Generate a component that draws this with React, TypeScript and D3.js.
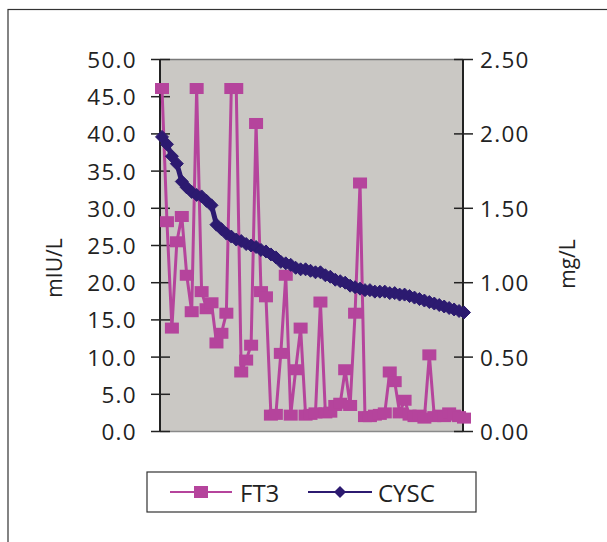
import React from "react";
import * as d3 from "d3";

const ft3: number[] = [
  46.1, 28.2, 13.9, 25.5, 28.9, 21.0, 16.1, 46.1, 18.8, 16.5,
  17.3, 11.9, 13.2, 15.9, 46.1, 46.1, 8.0, 9.6, 11.6, 41.4,
  18.8, 18.1, 2.2, 2.3, 10.5, 21.0, 2.2, 8.3, 13.9, 2.2,
  2.3, 2.5, 17.4, 2.5, 2.6, 3.5, 3.8, 8.3, 3.5, 15.9,
  33.4, 2.0, 2.0, 2.2, 2.3, 2.5, 8.0, 6.7, 2.5, 4.2,
  2.2, 2.0, 2.2, 1.8, 10.3, 2.0, 2.2, 2.0, 2.5, 2.2,
  2.0, 1.8,
];

const cysc: number[] = [
  1.98, 1.93, 1.85, 1.80, 1.68, 1.64, 1.61, 1.59, 1.58, 1.55,
  1.52, 1.39, 1.36, 1.33, 1.31, 1.29, 1.28, 1.26, 1.25, 1.24,
  1.22, 1.21, 1.19, 1.17, 1.14, 1.13, 1.12, 1.10, 1.09, 1.09,
  1.08, 1.07, 1.07, 1.05, 1.04, 1.02, 1.01, 1.00, 0.98, 0.97,
  0.96, 0.95, 0.95, 0.94, 0.94, 0.94, 0.93, 0.93, 0.92, 0.92,
  0.91, 0.90, 0.89, 0.88, 0.87, 0.86, 0.85, 0.84, 0.83, 0.82,
  0.81, 0.80,
];

const leftTicks: number[] = [0, 5, 10, 15, 20, 25, 30, 35, 40, 45, 50];
const rightTicks: number[] = [0, 0.5, 1, 1.5, 2, 2.5];
const seriesNames: string[] = ["FT3", "CYSC"];
const axisTitles: string[] = ["mIU/L", "mg/L"];

const W = 607;
const H = 542;
const PL = 160;
const PR = 463;
const PT = 59.5;
const PB = 431.5;
const FT3_COLOR = "#b5449c";
const CYSC_COLOR = "#2c1a70";
const FONT = "'Open Sans', 'DejaVu Sans', sans-serif";

export default function App() {
  const x = d3.scaleLinear().domain([0, ft3.length - 1]).range([PL + 2, PR + 1]);
  const yL = d3.scaleLinear().domain([0, 50]).range([PB, PT]);
  const yR = d3.scaleLinear().domain([0, 2.5]).range([PB, PT]);

  const ftLine = d3.line<number>().x((_, i) => x(i)).y((d) => yL(d))(ft3) || "";
  const cyLine = d3.line<number>().x((_, i) => x(i)).y((d) => yR(d))(cysc) || "";

  const sqW = 14;
  const sqH = 11;
  const dia = (cx: number, cy: number, r: number) =>
    `M${cx},${cy - r}L${cx + r},${cy}L${cx},${cy + r}L${cx - r},${cy}Z`;

  return (
    <svg width={W} height={H} style={{ position: "absolute", left: 0, top: 0 }}>
      <rect x={0} y={0} width={W} height={H} fill="#ffffff" />
      <rect x={8} y={9.5} width={700} height={700} fill="none" stroke="#333" strokeWidth={1.2} />
      <rect x={PL} y={PT} width={PR - PL} height={PB - PT} fill="#cac8c4" />
      <line x1={PL} x2={PR} y1={PT} y2={PT} stroke="#7a7a7a" strokeWidth={1.5} />
      <line x1={PL} x2={PR} y1={PB} y2={PB} stroke="#8a8a8a" strokeWidth={1.5} />
      <line x1={PL} x2={PL} y1={PT} y2={PB} stroke="#222" strokeWidth={2} />
      <line x1={PR} x2={PR} y1={PT} y2={PB} stroke="#222" strokeWidth={2} />
      {leftTicks.map((t) => (
        <g key={"l" + t}>
          <line x1={PL - 9} x2={PL + 10} y1={yL(t)} y2={yL(t)} stroke="#222" strokeWidth={1.5} />
          <text x={137} y={yL(t)} textAnchor="end" dominantBaseline="central" fontFamily={FONT} fontSize={22.5} fill="#222" letterSpacing={1.3}>
            {t.toFixed(1)}
          </text>
        </g>
      ))}
      {rightTicks.map((t) => (
        <g key={"r" + t}>
          <line x1={PR - 9} x2={PR + 10} y1={yR(t)} y2={yR(t)} stroke="#222" strokeWidth={1.5} />
          <text x={480} y={yR(t)} textAnchor="start" dominantBaseline="central" fontFamily={FONT} fontSize={22.5} fill="#222" letterSpacing={1.3}>
            {t.toFixed(2)}
          </text>
        </g>
      ))}
      <text transform={`translate(62,268) rotate(-90)`} textAnchor="middle" fontFamily={FONT} fontSize={21} fill="#222">
        {axisTitles[0]}
      </text>
      <text transform={`translate(575,264) rotate(-90)`} textAnchor="middle" fontFamily={FONT} fontSize={21} fill="#222">
        {axisTitles[1]}
      </text>

      <path d={ftLine} fill="none" stroke={FT3_COLOR} strokeWidth={3} />
      {ft3.map((v, i) => (
        <rect key={"f" + i} x={x(i) - sqW / 2} y={yL(v) - sqH / 2} width={sqW} height={sqH} fill={FT3_COLOR} />
      ))}
      <path d={cyLine} fill="none" stroke={CYSC_COLOR} strokeWidth={5} strokeLinejoin="round" />
      {cysc.map((v, i) => (
        <path key={"c" + i} d={dia(x(i), yR(v), 6.5)} fill={CYSC_COLOR} stroke={CYSC_COLOR} strokeWidth={1} />
      ))}

      <rect x={147} y={472} width={329} height={40} fill="#fff" stroke="#333" strokeWidth={1.2} />
      <line x1={170} x2={232} y1={492} y2={492} stroke={FT3_COLOR} strokeWidth={2} />
      <rect x={194} y={486} width={14} height={12} fill={FT3_COLOR} />
      <text x={240} y={492} dominantBaseline="central" fontFamily={FONT} fontSize={24} fill="#222">
        {seriesNames[0]}
      </text>
      <line x1={308} x2={372} y1={492} y2={492} stroke={CYSC_COLOR} strokeWidth={2} />
      <path d={dia(340, 492, 6)} fill={CYSC_COLOR} />
      <text x={378} y={492} dominantBaseline="central" fontFamily={FONT} fontSize={24} fill="#222">
        {seriesNames[1]}
      </text>
    </svg>
  );
}
